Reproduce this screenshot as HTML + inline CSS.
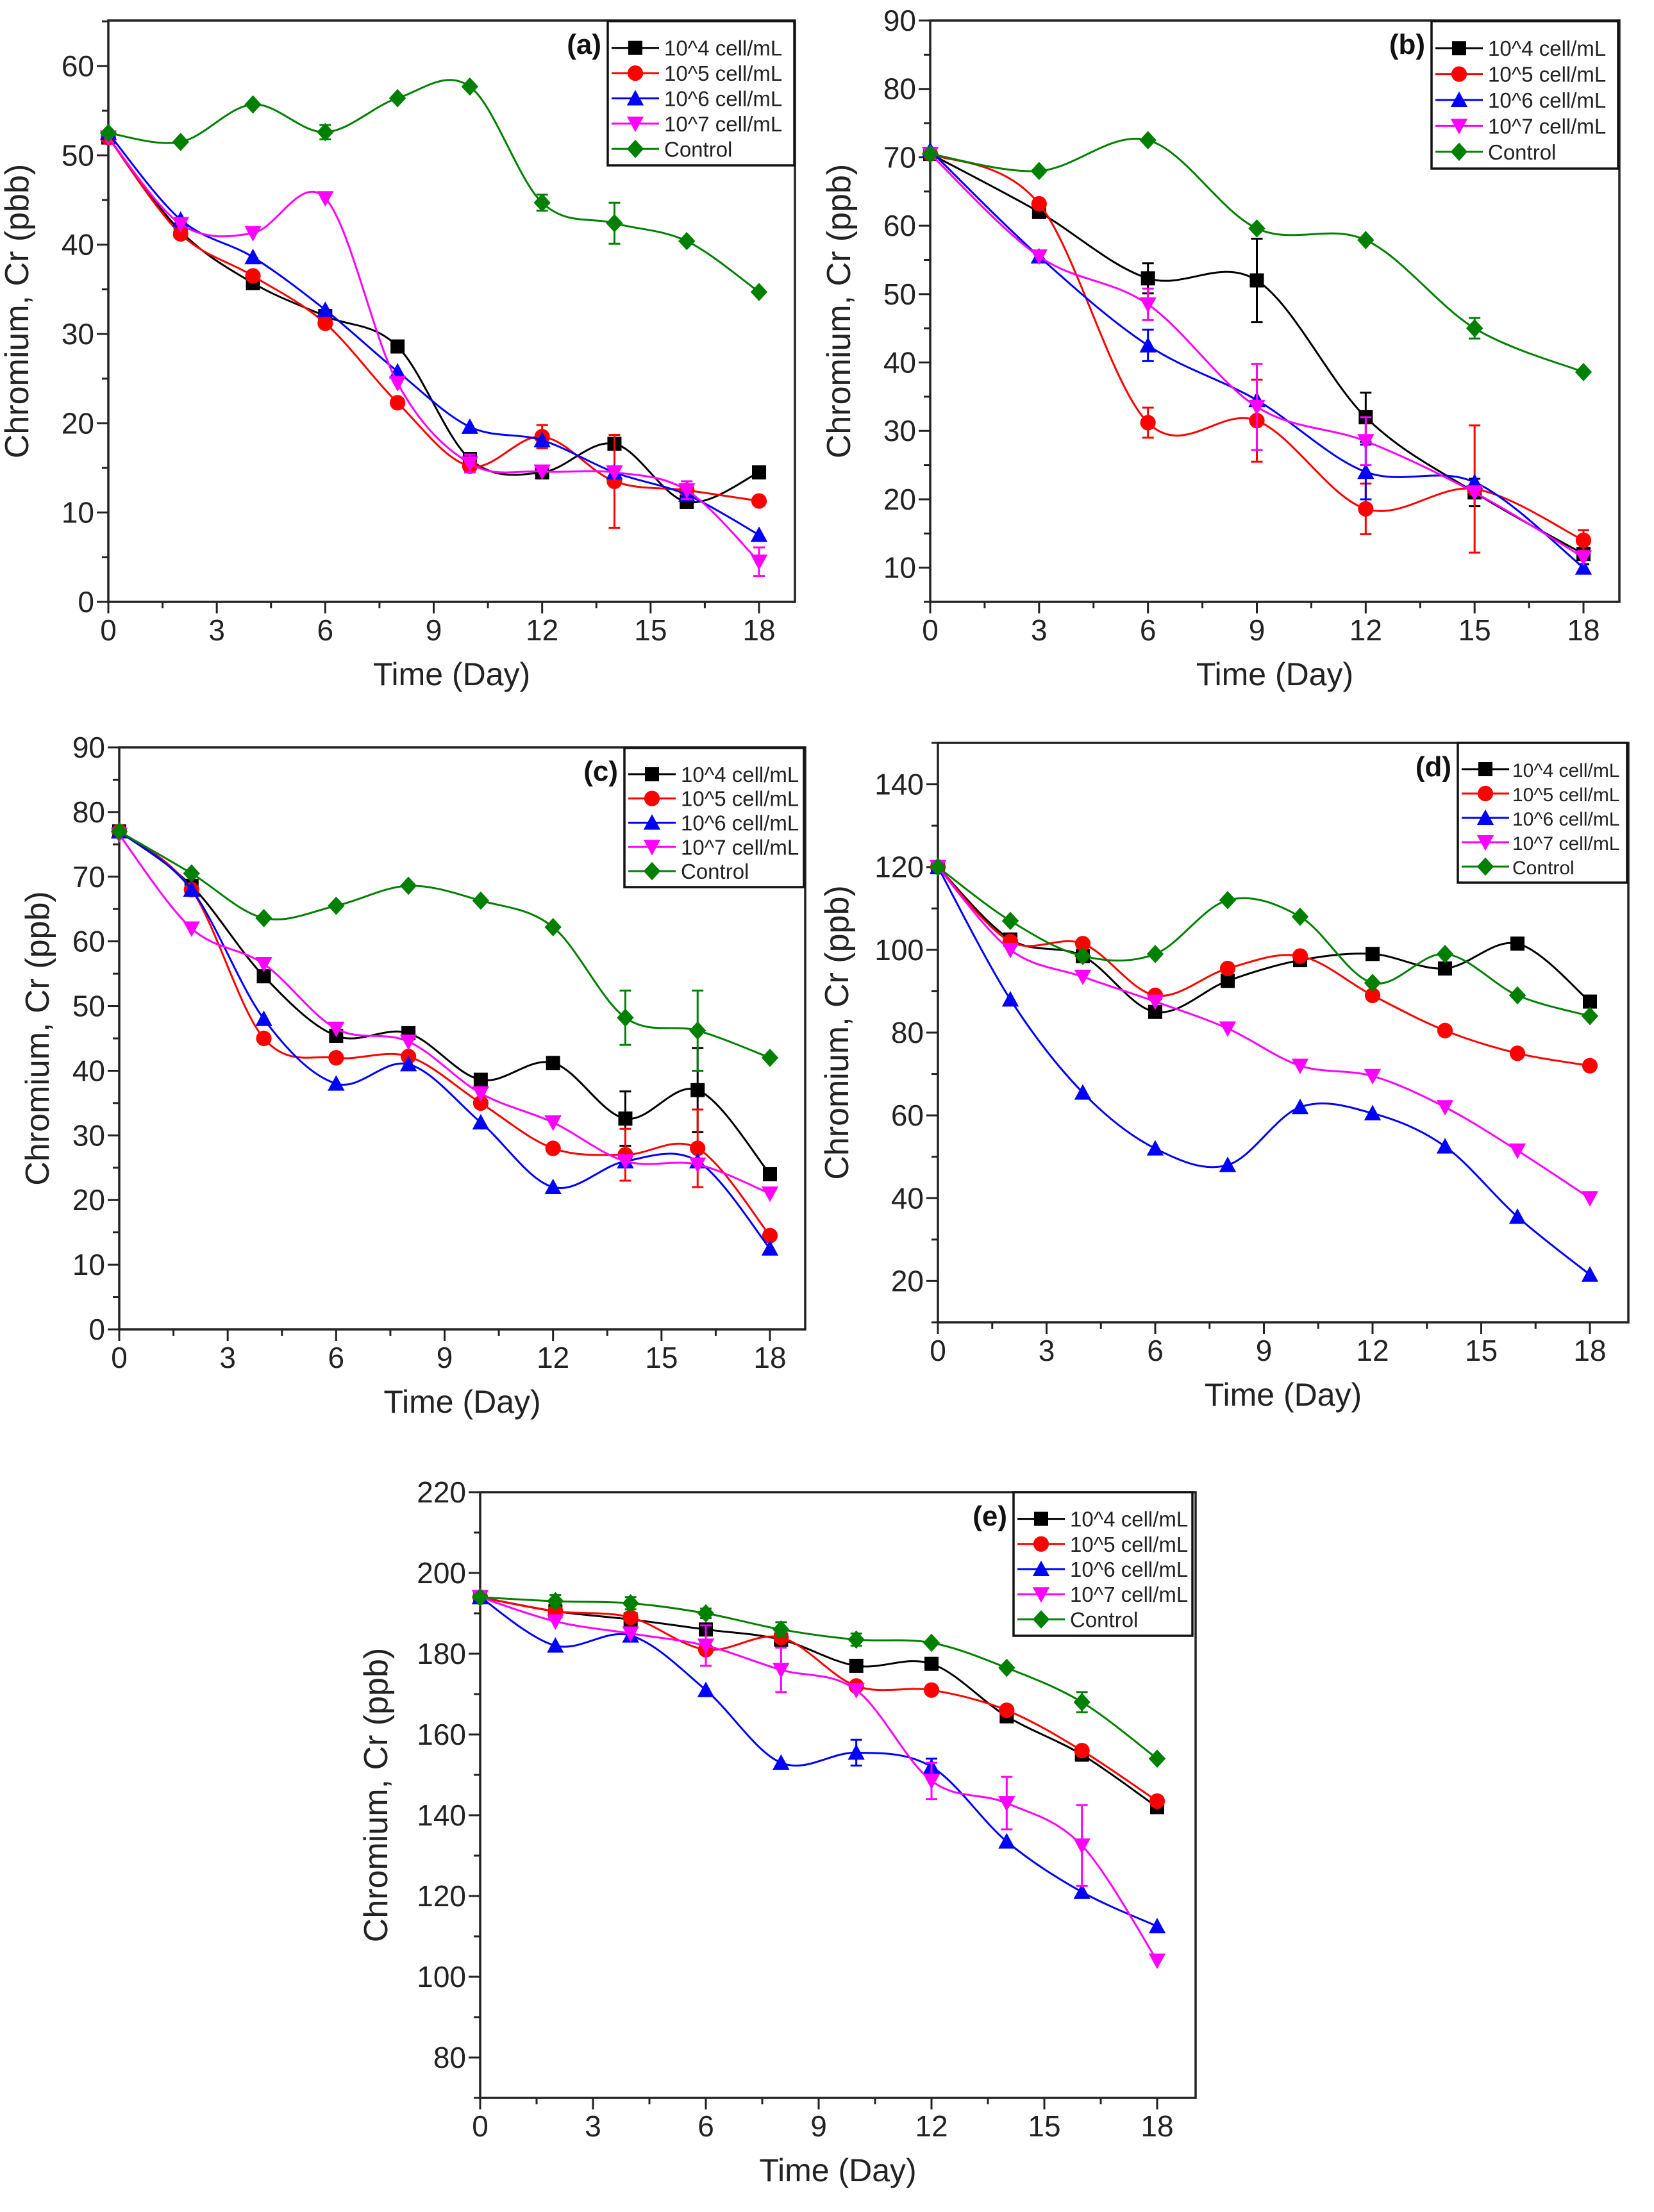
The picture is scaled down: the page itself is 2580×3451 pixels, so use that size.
<!DOCTYPE html>
<html><head><meta charset="utf-8"><style>
html,body{margin:0;padding:0;background:#fff;}
svg text{font-family:"Liberation Sans",Arial,sans-serif;}
</style></head><body>
<svg id="fig" width="2580" height="3446" viewBox="0 0 2580 3446" xmlns="http://www.w3.org/2000/svg"></svg>
<script>
// ---- Panel (a) data ----
const daysA = [0,2,4,6,8,10,12,14,16,18];
const a_1e4 = [52,41.5,35.7,32,28.6,16,14.5,17.7,11.2,14.5];
const a_1e5 = [52,41.2,36.5,31.2,22.3,15.2,18.5,13.5,12.5,11.3];
const a_1e6 = [52.5,42.8,38.6,32.7,25.8,19.6,18.1,14.5,12,7.5];
const a_1e7 = [52,42.3,41.3,45.2,24.5,15.5,14.6,14.5,12.5,4.5];
const a_ctl = [52.5,51.5,55.7,52.6,56.4,57.7,44.7,42.4,40.4,34.7];
const a_err_1e5 = [0,0,0,0,0,0,1.3,5.2,0,0];
const a_err_1e7 = [0,0,0,0,0,1,0,0,1,1.6];
const a_err_ctl = [0,0,0,0.8,0,0,0.9,2.3,0,0];
// ---- Panel (b) data ----
const daysB = [0,3,6,9,12,15,18];
const b_1e4 = [70.5,62,52.3,52,32,21,12];
const b_1e5 = [70.5,63.2,31.2,31.5,18.6,21.5,14];
const b_1e6 = [71,55.5,42.5,34.5,24,22.5,10];
const b_1e7 = [70.5,55.5,48.5,33.5,28.5,21,11.5];
const b_ctl = [70.5,68,72.5,59.6,57.9,45,38.6];
const b_err_1e4 = [0,0,2.2,6.1,3.6,2,1.5];
const b_err_1e5 = [0,0,2.2,6,3.7,9.3,1.5];
const b_err_1e6 = [0,0,2.3,0,4,0,0];
const b_err_1e7 = [0,0,2.3,6.3,3.5,0,0];
const b_err_ctl = [0,0,0,0,0,1.5,0];
// ---- Panel (c) data ----
const daysC = [0,2,4,6,8,10,12,14,16,18];
const c_1e4 = [77,68.6,54.6,45.4,45.8,38.6,41.2,32.6,37,24];
const c_1e5 = [77,68,45,42,42.2,35,28,27,28,14.5];
const c_1e6 = [77,68,48,38,41,32,22,26,26,12.5];
const c_1e7 = [76.5,62,56.5,46.5,44.5,36.5,32,26,25.5,21];
const c_ctl = [77,70.5,63.6,65.5,68.6,66.3,62.2,48.2,46.2,42];
const c_err_1e4 = [0,0,0,0,0,0,0,4.2,6.5,0];
const c_err_1e5 = [0,0,0,0,0,0,0,4,6,0];
const c_err_ctl = [0,0,0,0,0,0,0,4.2,6.2,0];
// ---- Panel (d) data ----
const daysD = [0,2,4,6,8,10,12,14,16,18];
const d_1e4 = [120,102.5,98.5,85,92.5,97.5,99,95.5,101.5,87.5];
const d_1e5 = [120,102,101.5,89,95.5,98.5,89,80.5,75,72];
const d_1e6 = [120,88,65.5,52,48,62,60.5,52.5,35.5,21.5];
const d_1e7 = [120,100,93.5,87.5,81,72,69.5,62,51.5,40];
const d_ctl = [120,107,98.5,99,112,108,92,99,89,84];
// ---- Panel (e) data ----
const daysE = [0,2,4,6,8,10,12,14,16,18];
const e_1e4 = [194,190.5,188.5,186,183.5,177,177.5,164.5,155,142];
const e_1e5 = [194,190.5,189,181,184,172,171,166,156,143.5];
const e_1e6 = [194,182,184.5,171,153,155.5,152,133.5,121,112.5];
const e_1e7 = [194,188,185,182,176,171,148.5,143,132.5,104];
const e_ctl = [194,193,192.5,190,186,183.5,182.7,176.5,168,154];
const e_err_1e6 = [0,0,0,0,0,3.2,2,0,0,0];
const e_err_1e7 = [0,0,0,5,5.5,0,4.5,6.5,10,0];
const e_err_ctl = [0,1.5,1.5,1.2,1.8,1.5,0,0,2.5,0];
// tick labels
const xTicks = [0,3,6,9,12,15,18];
const yTicksA = [0,10,20,30,40,50,60];
const yTicksB = [10,20,30,40,50,60,70,80,90];
const yTicksC = [0,10,20,30,40,50,60,70,80,90];
const yTicksD = [20,40,60,80,100,120,140];
const yTicksE = [80,100,120,140,160,180,200,220];
const seriesNames = ["10^4 cell/mL","10^5 cell/mL","10^6 cell/mL","10^7 cell/mL","Control"];

const NS="http://www.w3.org/2000/svg";
const svg=document.getElementById('fig');
const colors=["#000000","#ff0000","#0000ff","#ff00ff","#008000"];
const shapes=["square","circle","up","down","diamond"];

function mk(tag,attrs,parent){const e=document.createElementNS(NS,tag);for(const k in attrs)e.setAttribute(k,attrs[k]);(parent||svg).appendChild(e);return e;}

function marker(g,shape,cx,cy,s,color){
  let e;
  if(shape==="square") e=mk('rect',{x:cx-s,y:cy-s,width:2*s,height:2*s,fill:color},g);
  else if(shape==="circle") e=mk('circle',{cx:cx,cy:cy,r:s*1.1,fill:color},g);
  else if(shape==="up") e=mk('polygon',{points:`${cx},${cy-s*1.2} ${cx+s*1.2},${cy+s} ${cx-s*1.2},${cy+s}`,fill:color},g);
  else if(shape==="down") e=mk('polygon',{points:`${cx},${cy+s*1.2} ${cx+s*1.2},${cy-s} ${cx-s*1.2},${cy-s}`,fill:color},g);
  else e=mk('polygon',{points:`${cx},${cy-s*1.3} ${cx+s*1.2},${cy} ${cx},${cy+s*1.3} ${cx-s*1.2},${cy}`,fill:color},g);
  return e;
}

function splinePath(pts){
  let d=`M${pts[0][0]},${pts[0][1]}`;
  for(let i=0;i<pts.length-1;i++){
    const p0=pts[i-1]||pts[i],p1=pts[i],p2=pts[i+1],p3=pts[i+2]||pts[i+1];
    const c1x=p1[0]+(p2[0]-p0[0])/6,c1y=p1[1]+(p2[1]-p0[1])/6;
    const c2x=p2[0]-(p3[0]-p1[0])/6,c2y=p2[1]-(p3[1]-p1[1])/6;
    d+=` C${c1x},${c1y} ${c2x},${c2y} ${p2[0]},${p2[1]}`;
  }
  return d;
}

function drawPanel(P){
  const g=mk('g',{});
  
  
  const sx=v=>P.x0+(v-0)*(P.x18-P.x0)/18;
  const sy=v=>P.bottom-(v-P.ymin)*(P.bottom-P.top)/(P.ymax-P.ymin);
  const fr=mk('rect',{x:P.left,y:P.top,width:P.right-P.left,height:P.bottom-P.top,fill:'none',stroke:'#222','stroke-width':3.5},g);
  
  
  for(let v=0;v<=19;v+=1.5){
    const major=(v%3===0);
    mk('line',{x1:sx(v),x2:sx(v),y1:P.bottom,y2:P.bottom+(major?18:10),stroke:'#222','stroke-width':3},g);
  }
  xTicks.forEach(v=>{
    const t=mk('text',{x:sx(v),y:P.bottom+60,'font-size':46,'text-anchor':'middle',fill:'#222'},g);
    t.textContent=v;
    
    
  });
  const step=P.yt[1]-P.yt[0];
  for(let v=P.yt[0]-step;v<=P.ymax;v+=step/2){
    if(v<P.ymin) continue;
    const major=P.yt.includes(v);
    mk('line',{x1:P.left-(major?18:10),x2:P.left,y1:sy(v),y2:sy(v),stroke:'#222','stroke-width':3},g);
  }
  P.yt.forEach(v=>{
    const t=mk('text',{x:P.left-22,y:sy(v)+16,'font-size':46,'text-anchor':'end',fill:'#222'},g);
    t.textContent=v;
    
    
  });
  const xt=mk('text',{x:(P.left+P.right)/2,y:P.bottom+130,'font-size':50,'text-anchor':'middle',fill:'#222'},g);
  xt.textContent='Time (Day)';
  
  
  const cy=(P.top+P.bottom)/2, tx=P.left-P.ytOff;
  const yt=mk('text',{x:tx,y:cy,'font-size':52,'text-anchor':'middle',fill:'#222',transform:`rotate(-90 ${tx} ${cy})`},g);
  yt.textContent=P.ytitle;
  
  
  P.series.forEach((s,i)=>{
    const sg=mk('g',{},g);
    
    
    const pts=P.days.map((d,j)=>[sx(d),sy(s[j])]);
    const ln=mk('path',{d:splinePath(pts),fill:'none',stroke:colors[i],'stroke-width':3},sg);
    
    
    const err=P.errs[i];
    if(err){
      P.days.forEach((d,j)=>{
        if(!err[j]) return;
        const x=sx(d),y1=sy(s[j]-err[j]),y2=sy(s[j]+err[j]);
        const eb=mk('path',{d:`M${x},${y1}V${y2}M${x-9},${y1}H${x+9}M${x-9},${y2}H${x+9}`,stroke:colors[i],'stroke-width':3,fill:'none'},sg);
        
        
      });
    }
    P.days.forEach((d,j)=>{
      const m=marker(sg,shapes[i],sx(d),sy(s[j]),11,colors[i]);
      
      
    });
  });
  const L=P.leg;
  const lg=mk('g',{},g);
  
  
  mk('rect',{x:L.x,y:L.y,width:L.w,height:L.h,fill:'#fff',stroke:'#111','stroke-width':3.5},lg);
  const rowH=(L.h-28)/5;
  const fs=L.w<270?30:33;
  seriesNames.forEach((n,i)=>{
    const ry=L.y+26+rowH*i+rowH/2-4;
    const e=mk('g',{},lg);
    
    
    mk('line',{x1:L.x+6,x2:L.x+80,y1:ry,y2:ry,stroke:colors[i],'stroke-width':3},e);
    marker(e,shapes[i],L.x+43,ry,11,colors[i]);
    const t=mk('text',{x:L.x+(L.w<270?85:88),y:ry+12,'font-size':fs,fill:'#222'},e);
    t.textContent=n;
  });
  const pl=mk('text',{x:L.x-10,y:P.top+52,'font-size':44,'font-weight':'bold','text-anchor':'end',fill:'#111'},g);
  pl.textContent='('+P.id+')';
  
  
}

const panels=[
 {id:'a',left:169,x0:169,x18:1184,right:1240,top:32,bottom:939,ymin:0,ymax:65.1,yt:yTicksA,ytitle:'Chromium, Cr (pbb)',ytOff:125,
  days:daysA,series:[a_1e4,a_1e5,a_1e6,a_1e7,a_ctl],errs:[null,a_err_1e5,null,a_err_1e7,a_err_ctl],
  leg:{x:948,y:33,w:291,h:225}},
 {id:'b',left:1451,x0:1451,x18:2470,right:2526,top:32,bottom:939,ymin:5,ymax:90,yt:yTicksB,ytitle:'Chromium, Cr (ppb)',ytOff:125,
  days:daysB,series:[b_1e4,b_1e5,b_1e6,b_1e7,b_ctl],errs:[b_err_1e4,b_err_1e5,b_err_1e6,b_err_1e7,b_err_ctl],
  leg:{x:2233,y:33,w:291,h:230}},
 {id:'c',left:186,x0:186,x18:1201,right:1256,top:1166,bottom:2074,ymin:0,ymax:90,yt:yTicksC,ytitle:'Chromium, Cr (ppb)',ytOff:110,
  days:daysC,series:[c_1e4,c_1e5,c_1e6,c_1e7,c_ctl],errs:[c_err_1e4,c_err_1e5,null,null,c_err_ctl],
  leg:{x:974,y:1167,w:280,h:217}},
 {id:'d',left:1463,x0:1463,x18:2480,right:2540,top:1159,bottom:2063,ymin:10,ymax:150,yt:yTicksD,ytitle:'Chromium, Cr (ppb)',ytOff:140,
  days:daysD,series:[d_1e4,d_1e5,d_1e6,d_1e7,d_ctl],errs:[null,null,null,null,null],
  leg:{x:2274,y:1159,w:264,h:218}},
 {id:'e',left:749,x0:749,x18:1805,right:1865,top:2328,bottom:3273,ymin:70,ymax:220,yt:yTicksE,ytitle:'Chromium, Cr (ppb)',ytOff:145,
  days:daysE,series:[e_1e4,e_1e5,e_1e6,e_1e7,e_ctl],errs:[null,null,e_err_1e6,e_err_1e7,e_err_ctl],
  leg:{x:1581,y:2328,w:279,h:224}}
];
panels.forEach(drawPanel);
</script>
</body></html>
